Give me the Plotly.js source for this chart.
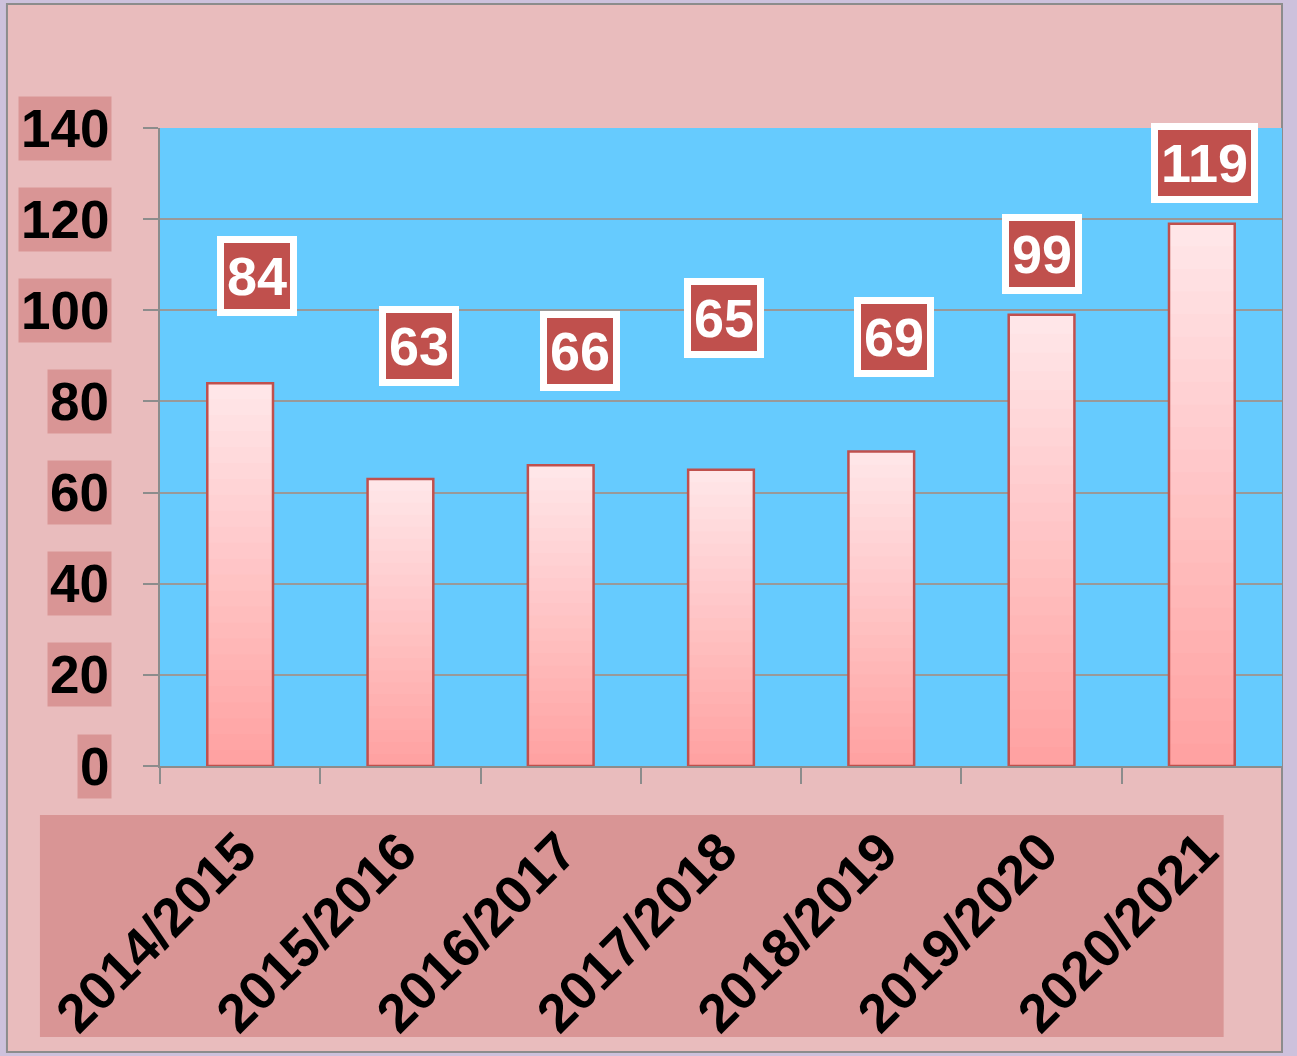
<!DOCTYPE html>
<html>
<head>
<meta charset="utf-8">
<script src="https://cdn.plot.ly/plotly-3.0.1.min.js"></script>
<style>html,body{margin:0;padding:0;background:#cdc1dc;}#chart{width:1297px;height:1056px;}</style>
</head>
<body>
<div id="chart"></div>
<script>
// ---- data ----
var categories = ["2014/2015","2015/2016","2016/2017","2017/2018","2018/2019","2019/2020","2020/2021"];
var values = [84, 63, 66, 65, 69, 99, 119];
var yTickValues = [0, 20, 40, 60, 80, 100, 120, 140];
var yTickLabels = ["0", "20", "40", "60", "80", "100", "120", "140"];

// ---- style (label offsets in pixels) ----
var labelShiftX = [17, 19, 19, 3, 13, 0, 3];
var labelShiftY = [107, 133, 114, 152, 115, 61, 61];

var FONT = "Liberation Sans, Arial, sans-serif";
var N = 24;
function mix(a, b, t) {
  var r = Math.round(a[0] + (b[0] - a[0]) * t);
  var g = Math.round(a[1] + (b[1] - a[1]) * t);
  var bl = Math.round(a[2] + (b[2] - a[2]) * t);
  return "rgb(" + r + "," + g + "," + bl + ")";
}
var bottomCol = [255, 162, 162], topCol = [255, 230, 232];
var traces = [];
for (var k = 0; k < N; k++) {
  traces.push({
    type: "bar",
    x: categories,
    y: values.map(function (v) { return v * (N - k) / N; }),
    base: values.map(function (v) { return v * k / N; }),
    marker: { color: mix(bottomCol, topCol, k / (N - 1)), line: { width: 0 } },
    hoverinfo: "skip",
    showlegend: false
  });
}
traces.push({
  type: "bar",
  x: categories,
  y: values,
  marker: { color: "rgba(0,0,0,0)", line: { color: "#c0504d", width: 2.5 } },
  showlegend: false
});

var annotations = [];
values.forEach(function (v, i) {
  annotations.push({
    x: categories[i], y: v, xref: "x", yref: "y",
    text: "<b>" + v + "</b>", showarrow: false,
    xanchor: "center", yanchor: "middle",
    xshift: labelShiftX[i], yshift: labelShiftY[i],
    font: { family: FONT, size: 54, color: "#ffffff" },
    bgcolor: "#c0504d", bordercolor: "#ffffff", borderwidth: 7, borderpad: 3
  });
});
yTickValues.forEach(function (t, i) {
  annotations.push({
    x: -0.0428, y: t, xref: "paper", yref: "y",
    text: "<b>" + yTickLabels[i] + "</b>", showarrow: false,
    xanchor: "right", yanchor: "middle",
    font: { family: FONT, size: 53, color: "#000000" },
    bgcolor: "#d99595", borderpad: 2
  });
});

var layout = {
  width: 1297, height: 1056,
  margin: { l: 160, r: 15, t: 128, b: 290 },
  paper_bgcolor: "#cdc1dc",
  plot_bgcolor: "rgba(0,0,0,0)",
  barmode: "overlay",
  bargap: 0.59,
  showlegend: false,
  font: { family: FONT },
  xaxis: {
    type: "category",
    tickson: "boundaries",
    ticks: "outside", ticklen: 16, tickwidth: 2, tickcolor: "#8c8c8c",
    showline: true, linecolor: "#8c8c8c", linewidth: 2,
    showgrid: false,
    tickangle: -45,
    ticklabelstandoff: 30,
    tickfont: { family: FONT, size: 54, color: "#000000", weight: "bold" },
    fixedrange: true
  },
  yaxis: {
    range: [0, 140],
    tickvals: yTickValues,
    showticklabels: false,
    ticks: "outside", ticklen: 15, tickwidth: 2, tickcolor: "#8c8c8c",
    showline: true, linecolor: "#8c8c8c", linewidth: 2,
    showgrid: true, gridcolor: "#999999", gridwidth: 2,
    zeroline: false,
    fixedrange: true
  },
  shapes: [
    { type: "rect", xref: "paper", yref: "paper", layer: "below",
      x0: -0.1364, x1: 1.0, y0: -0.4483, y1: 1.1944,
      fillcolor: "#e9bcbd", line: { color: "#8c8c8c", width: 2 } },
    { type: "rect", xref: "paper", yref: "paper", layer: "below",
      x0: 0, x1: 1, y0: 0, y1: 1,
      fillcolor: "#66cbfe", line: { width: 0 } },
    { type: "rect", xref: "paper", yref: "paper", layer: "below",
      x0: -0.107, x1: 0.948, y0: -0.4248, y1: -0.0768,
      fillcolor: "#d99595", line: { width: 0 } }
  ],
  annotations: annotations
};

Plotly.newPlot("chart", traces, layout, { displayModeBar: false, staticPlot: true });
</script>
</body>
</html>
